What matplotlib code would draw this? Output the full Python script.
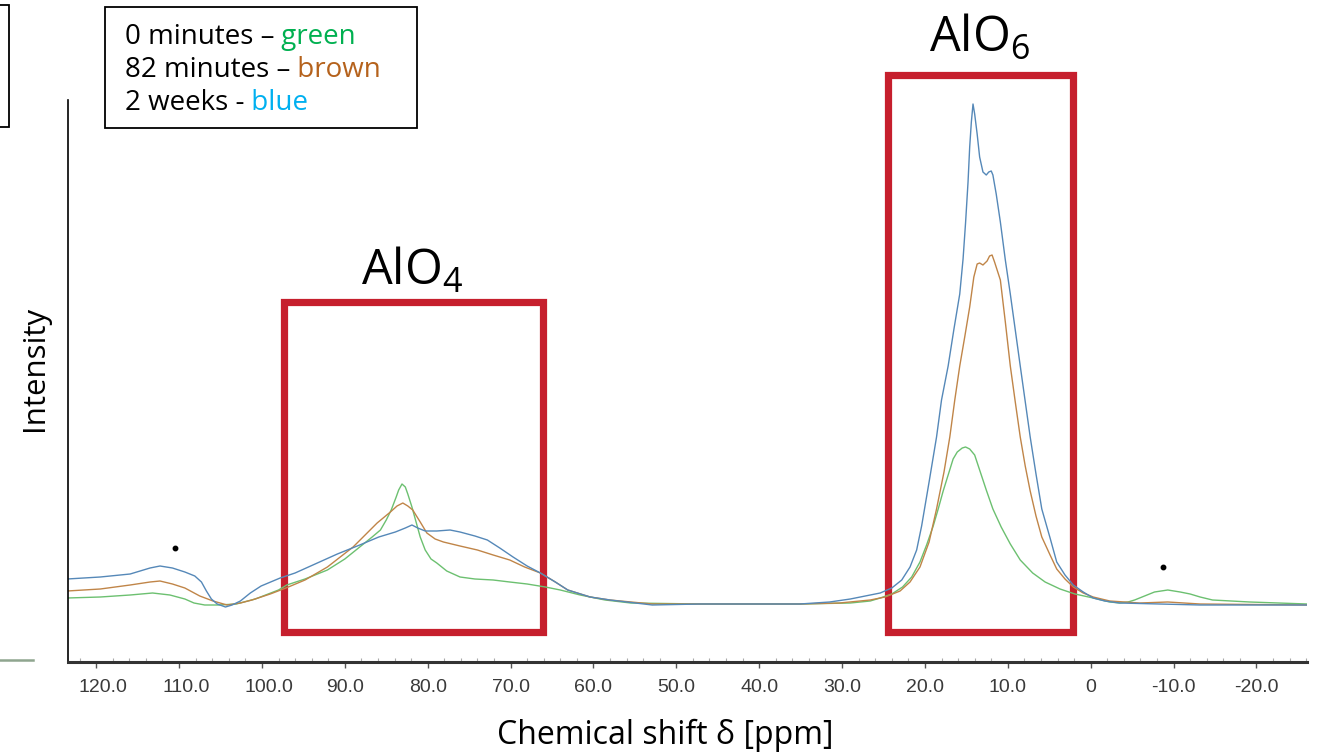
import numpy as np
import matplotlib
matplotlib.use("Agg")
import matplotlib.pyplot as plt
from matplotlib.patches import Rectangle
from matplotlib.ticker import MultipleLocator
from matplotlib.transforms import ScaledTranslation

# 27Al NMR spectra, intensity in arbitrary units
blue_ppm = [123.5, 119.5, 115.9, 113.5, 112.3, 110.8, 109.3, 108.1, 107.3, 106.7,
            106.1, 105.4, 104.4, 103.6, 102.6, 101.4, 100.1, 97.8, 96.0, 90.9,
            88.2, 85.9, 83.9, 82.7, 81.9, 81.2, 80.3, 78.9, 77.3, 76.1,
            74.3, 72.8, 71.3, 69.7, 68.0, 66.4, 64.6, 63.1, 60.4, 58.0,
            52.9, 47.1, 35.1, 31.5, 29.0, 27.2, 25.4, 24.0, 22.8, 21.8,
            21.0, 20.4, 19.5, 18.6, 18.0, 17.2, 16.5, 15.8, 15.4, 15.1,
            14.8, 14.6, 14.4, 14.2, 14.0, 13.7, 13.4, 13.0, 12.6, 12.3,
            12.0, 11.8, 11.4, 10.9, 10.3, 9.7, 8.5, 7.3, 6.6, 5.9,
            4.9, 4.1, 3.1, 2.1, 0.9, -0.3, -1.7, -3.5, -8.3, -13.2, -26.1]
blue_int = [83, 85, 88, 94, 96, 94, 90, 86, 80, 71,
            63, 58, 55, 57, 61, 69, 76, 84, 89, 108,
            117, 125, 130, 134, 137, 134, 131, 131, 132, 130,
            126, 122, 114, 105, 96, 89, 80, 72, 65, 62,
            57, 58, 58, 60, 63, 66, 69, 74, 82, 95,
            112, 136, 180, 225, 262, 296, 333, 368, 403, 439,
            480, 515, 540, 558, 548, 528, 505, 490, 487, 490,
            491, 487, 468, 440, 402, 368, 296, 225, 188, 153,
            124, 100, 87, 77, 70, 64, 61, 59, 58, 57, 57]

brown_ppm = [123.5, 119.5, 115.9, 113.5, 112.3, 110.8, 109.3, 107.5, 105.9, 104.2,
             102.6, 101.2, 99.0, 97.1, 94.8, 92.1, 89.0, 86.1, 84.5, 83.7,
             83.0, 82.4, 81.8, 80.9, 80.1, 79.1, 78.1, 76.1, 74.0, 72.1,
             70.1, 68.3, 66.4, 64.6, 63.1, 60.4, 58.0, 52.9, 47.1, 35.1,
             30.3, 26.6, 24.8, 23.0, 21.8, 20.6, 19.5, 18.6, 17.7, 17.0,
             16.4, 15.8, 15.2, 14.6, 14.1, 13.7, 13.4, 13.0, 12.5, 12.2,
             11.9, 11.6, 10.9, 10.3, 9.7, 9.1, 8.5, 7.9, 7.3, 6.6,
             5.9, 4.9, 4.1, 3.1, 2.1, 0.9, -0.3, -2.3, -5.9, -9.3, -13.2, -26.1]
brown_int = [71, 73, 77, 80, 81, 78, 74, 66, 61, 57,
             59, 62, 68, 74, 82, 95, 115, 139, 150, 156,
             159, 156, 152, 140, 129, 123, 120, 116, 112, 107,
             102, 95, 89, 80, 72, 65, 62, 58, 58, 58,
             59, 62, 65, 71, 80, 95, 120, 153, 190, 225,
             262, 296, 325, 355, 385, 398, 399, 397, 401, 406,
             407, 400, 382, 340, 296, 260, 225, 196, 171, 146,
             125, 107, 93, 83, 75, 69, 65, 61, 59, 60, 58, 57]

green_ppm = [123.5, 119.5, 115.9, 113.2, 111.1, 109.3, 108.2, 106.9, 105.2, 103.1,
             100.8, 98.0, 97.0, 94.8, 92.1, 90.0, 88.2, 86.7, 85.7, 85.0,
             84.4, 83.8, 83.5, 83.1, 82.7, 82.4, 81.9, 81.4, 80.9, 80.3,
             79.6, 78.9, 77.7, 76.1, 74.3, 72.1, 70.1, 68.0, 65.8, 64.0,
             61.6, 58.6, 55.5, 47.1, 35.1, 29.0, 26.6, 25.4, 24.0, 22.7,
             21.6, 20.6, 19.8, 19.0, 18.4, 17.8, 17.2, 16.6, 16.1, 15.5,
             15.1, 14.6, 14.0, 13.4, 12.6, 11.8, 10.8, 9.7, 8.5, 7.0,
             5.5, 3.7, 1.9, -0.3, -2.3, -3.5, -4.5, -5.3, -6.5, -7.7,
             -9.3, -10.8, -12.0, -13.2, -14.7, -19.2, -26.1]
green_int = [64, 65, 67, 69, 67, 63, 59, 57, 57, 58,
             63, 72, 77, 83, 92, 103, 115, 125, 132, 142,
             152, 165, 172, 178, 175, 168, 155, 140, 125, 112,
             103, 99, 91, 85, 83, 82, 80, 78, 75, 72,
             67, 62, 59, 58, 58, 59, 61, 64, 68, 75,
             85, 100, 117, 136, 153, 171, 187, 203, 210, 214,
             215, 213, 207, 192, 172, 153, 135, 118, 102, 89,
             80, 73, 68, 64, 60, 59, 60, 62, 66, 70,
             72, 70, 68, 65, 62, 60, 58]

# spinning side bands (marked with *)
dot_ppm = [110.5, -8.7]
dot_int = [114, 95]

tick_vals = [120, 110, 100, 90, 80, 70, 60, 50, 40, 30, 20, 10, 0, -10, -20]
tick_text = ["0" if v == 0 else f"{v:.1f}" for v in tick_vals]

plt.rcParams['mathtext.fontset'] = 'custom'
plt.rcParams['mathtext.rm'] = 'Open Sans'
plt.rcParams['mathtext.it'] = 'Open Sans:italic'

W, H = 1319, 752
fig = plt.figure(figsize=(W / 100, H / 100), dpi=100)
ax = fig.add_axes([68 / W, 90 / H, (1307 - 68) / W, 562 / H])
ax.set_xlim(123.4, -26.1)
ax.set_ylim(0, 562)

ax.plot(green_ppm, green_int, color="#6cc070", lw=1.0)
ax.plot(brown_ppm, brown_int, color="#c08548", lw=1.0)
ax.plot(blue_ppm, blue_int, color="#5588b8", lw=1.0)
ax.plot(dot_ppm, dot_int, "o", color="black", ms=3.2)

# axes styling
for s in ["top", "right"]:
    ax.spines[s].set_visible(False)
ax.spines["left"].set_linewidth(1.2)
ax.spines["bottom"].set_linewidth(2.2)
ax.spines["bottom"].set_color("#333333")
ax.set_yticks([])
ax.set_xticks(tick_vals)
ax.set_xticklabels(tick_text, fontsize=14, color="#3a3a3a", family="Liberation Sans")
ax.xaxis.set_minor_locator(MultipleLocator(2))
ax.tick_params(axis="x", which="major", direction="out", length=4, width=1,
               color="#555555", pad=8)
ax.tick_params(axis="x", which="minor", direction="in", length=3, width=0.8,
               color="#aaaaaa")
# the three-digit labels sit a little right of their ticks in the original
for lbl in ax.get_xticklabels()[:3]:
    lbl.set_transform(lbl.get_transform() + ScaledTranslation(0.07, 0, fig.dpi_scale_trans))

ax.set_xlabel("Chemical shift δ [ppm]", fontsize=23, family="Open Sans")
ax.xaxis.set_label_coords(0.482, -0.131)
ax.xaxis.label.set_va("center")
ax.set_ylabel("Intensity", fontsize=22.5, family="Open Sans")
ax.yaxis.set_label_coords(-0.0266, 0.523)
ax.yaxis.label.set_va("center")

# red boxes around the two Al environments
red = "#c61f2d"
box4 = Rectangle((66.1, 30), 31.2, 330, fill=False, ec=red, lw=5.2,
                 joinstyle="miter", clip_on=False)
box6 = Rectangle((2.1, 30), 22.4, 557, fill=False, ec=red, lw=5.2,
                 joinstyle="miter", clip_on=False)
ax.add_patch(box4)
ax.add_patch(box6)
ax.text(81.9, 377, r"AlO$_4$", fontsize=35, ha="center", va="baseline",
        family="Open Sans", clip_on=False)
ax.text(13.4, 610, r"AlO$_6$", fontsize=35, ha="center", va="baseline",
        family="Open Sans", clip_on=False)

# legend box in the top left
fig.patches.append(Rectangle((105 / W, (H - 128) / H), 312 / W, 121 / H,
                             transform=fig.transFigure, fill=False,
                             ec="black", lw=1.3))
legend_rows = [("0 minutes –", " green", "#00b050"),
               ("82 minutes –", " brown", "#b5621c"),
               ("2 weeks -", " blue", "#00b0f0")]
row_y = [37, 70, 103]
for (black_part, col_part, col), yy in zip(legend_rows, row_y):
    t = fig.text(125 / W, (H - yy) / H, black_part, fontsize=20,
                 family="Open Sans", ha="left", va="center")
    ax.annotate(col_part, xy=(1, 0), xycoords=t, fontsize=20,
                family="Open Sans", color=col, ha="left", va="bottom",
                annotation_clip=False)

# bits of the neighbouring figure cut off at the left edge
fig.patches.append(Rectangle((-30 / W, (H - 127) / H), 39 / W, 122 / H,
                             transform=fig.transFigure, fill=False,
                             ec="black", lw=1.3))
fig.lines.append(plt.Line2D([0, 33 / W], [(H - 660) / H] * 2,
                            transform=fig.transFigure, color="#8fa58f", lw=1.8))

fig.savefig("out.png", dpi=100)
